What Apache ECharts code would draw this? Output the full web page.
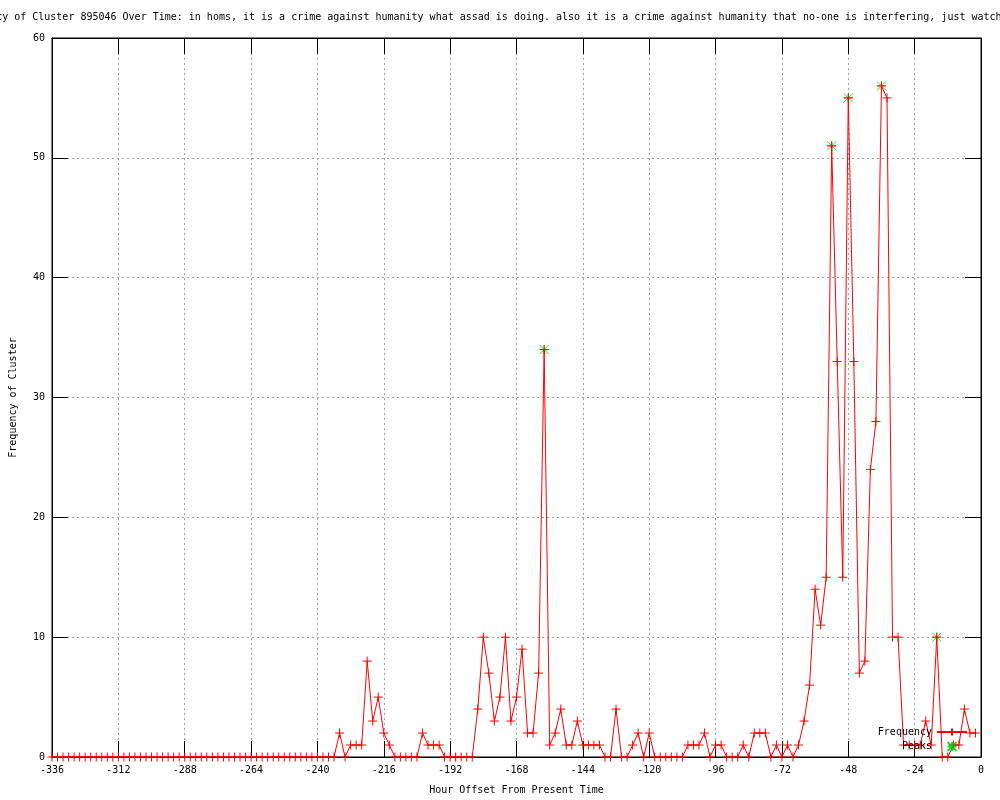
<!DOCTYPE html>
<html>
<head>
<meta charset="utf-8">
<script src="https://cdn.jsdelivr.net/npm/echarts@6/dist/echarts.min.js"></script>
<style>html,body{margin:0;padding:0;background:#fff;}#c{width:1000px;height:800px;}</style>
</head>
<body>
<div id="c"></div>
<script>
// Hour offsets run from -336 to -2 in steps of 2
const hourStart = -336;
const hourStep = 2;
// Frequency of cluster per 2-hour bin (168 bins)
const freq = [
  0,0,0,0,0,0,0,0,0,0, 0,0,0,0,0,0,0,0,0,0,
  0,0,0,0,0,0,0,0,0,0, 0,0,0,0,0,0,0,0,0,0,
  0,0,0,0,0,0,0,0,0,0, 0,0,
  2,0,1,1,1,8,3,5,2,1, 0,0,0,0,0,2,1,1,1,0,
  0,0,0,0,0,4,10,7,3,5, 10,3,5,9,2,2,7,34,1,2,
  4,1,1,3,1,1,1,1,0,0, 4,0,0,1,2,0,2,0,0,0,
  0,0,0,1,1,1,2,0,1,1, 0,0,0,1,0,2,2,2,0,1,
  0,1,0,1,3,6,14,11,15,51, 33,15,55,33,7,8,24,28,56,55,
  10,10,1,1,1,1,3,1,10,0, 0,1,1,4,2,2
];
const peakHours = [-158, -54, -48, -36, -16];
const xMin = -336, xMax = 0, xInterval = 24;
const yMin = 0, yMax = 60, yInterval = 10;
const titleText = 'Frequency of Cluster 895046 Over Time: in homs, it is a crime against humanity what assad is doing. also it is a crime against humanity that no-one is interfering, just watch:';
const xName = 'Hour Offset From Present Time';
const yName = 'Frequency of Cluster';

const freqData = freq.map((v, i) => [hourStart + i * hourStep, v]);
const peakData = peakHours.map(h => [h, freq[(h - hourStart) / hourStep]]);

const FONT = 'DejaVu Sans Mono';
const plusPath = 'path://M0,5L10,5M5,0L5,10';
const starPath = 'path://M0,0L10,10M10,0L0,10M5,0L5,10M0,5L10,5';

const chart = echarts.init(document.getElementById('c'), null, {renderer: 'canvas'});
const gridLine = {show: true, lineStyle: {color: '#a0a0a0', width: 1, type: [2, 3]}};
const tick = {show: true, inside: true, length: 16, lineStyle: {color: '#000', width: 1}};
const axLine = {show: true, onZero: false, lineStyle: {color: '#000', width: 1}};
chart.setOption({
  animation: false,
  backgroundColor: '#fff',
  textStyle: {fontFamily: FONT},
  graphic: [{
    type: 'text', left: -46, top: 12,
    style: {text: titleText, font: '10px "' + FONT + '"', fill: '#000'}
  }],
  grid: {left: 51, right: 19, top: 38, bottom: 40, show: true, borderColor: '#000', borderWidth: 1},
  legend: {
    data: ['Frequency', 'Peaks'], orient: 'vertical', align: 'right',
    right: 32, top: 727, itemWidth: 30, itemHeight: 9, itemGap: 4,
    textStyle: {fontFamily: FONT, fontSize: 10, color: '#000', padding: [0, 0, 0, 0]},
    padding: 0
  },
  xAxis: [{
    type: 'value', min: xMin, max: xMax, interval: xInterval, position: 'bottom',
    name: xName, nameLocation: 'middle', nameGap: 28,
    nameTextStyle: {fontFamily: FONT, fontSize: 10, color: '#000'},
    axisLine: axLine, axisTick: tick,
    axisLabel: {fontFamily: FONT, fontSize: 10, color: '#000', margin: 8},
    splitLine: gridLine
  }, {
    type: 'value', min: xMin, max: xMax, interval: xInterval, position: 'top',
    axisLine: axLine, axisTick: tick,
    axisLabel: {show: false}, splitLine: {show: false}
  }],
  yAxis: [{
    type: 'value', min: yMin, max: yMax, interval: yInterval, position: 'left',
    name: yName, nameLocation: 'middle', nameGap: 34, nameRotate: 90,
    nameTextStyle: {fontFamily: FONT, fontSize: 10, color: '#000'},
    axisLine: axLine, axisTick: tick,
    axisLabel: {fontFamily: FONT, fontSize: 10, color: '#000', margin: 7},
    splitLine: gridLine
  }, {
    type: 'value', min: yMin, max: yMax, interval: yInterval, position: 'right',
    axisLine: axLine, axisTick: tick,
    axisLabel: {show: false}, splitLine: {show: false}
  }],
  series: [{
    name: 'Frequency', type: 'line', data: freqData, z: 3,
    xAxisIndex: 0, yAxisIndex: 0,
    symbol: plusPath, symbolSize: 9, showAllSymbol: true,
    lineStyle: {color: '#ff0000', width: 1},
    itemStyle: {color: '#ff0000', borderColor: '#ff0000', borderWidth: 1}
  }, {
    name: 'Peaks', type: 'scatter', data: peakData, z: 2,
    xAxisIndex: 0, yAxisIndex: 0,
    symbol: starPath, symbolSize: 9,
    itemStyle: {color: '#00c000', borderColor: '#00c000', borderWidth: 1}
  }]
});
</script>
</body>
</html>
